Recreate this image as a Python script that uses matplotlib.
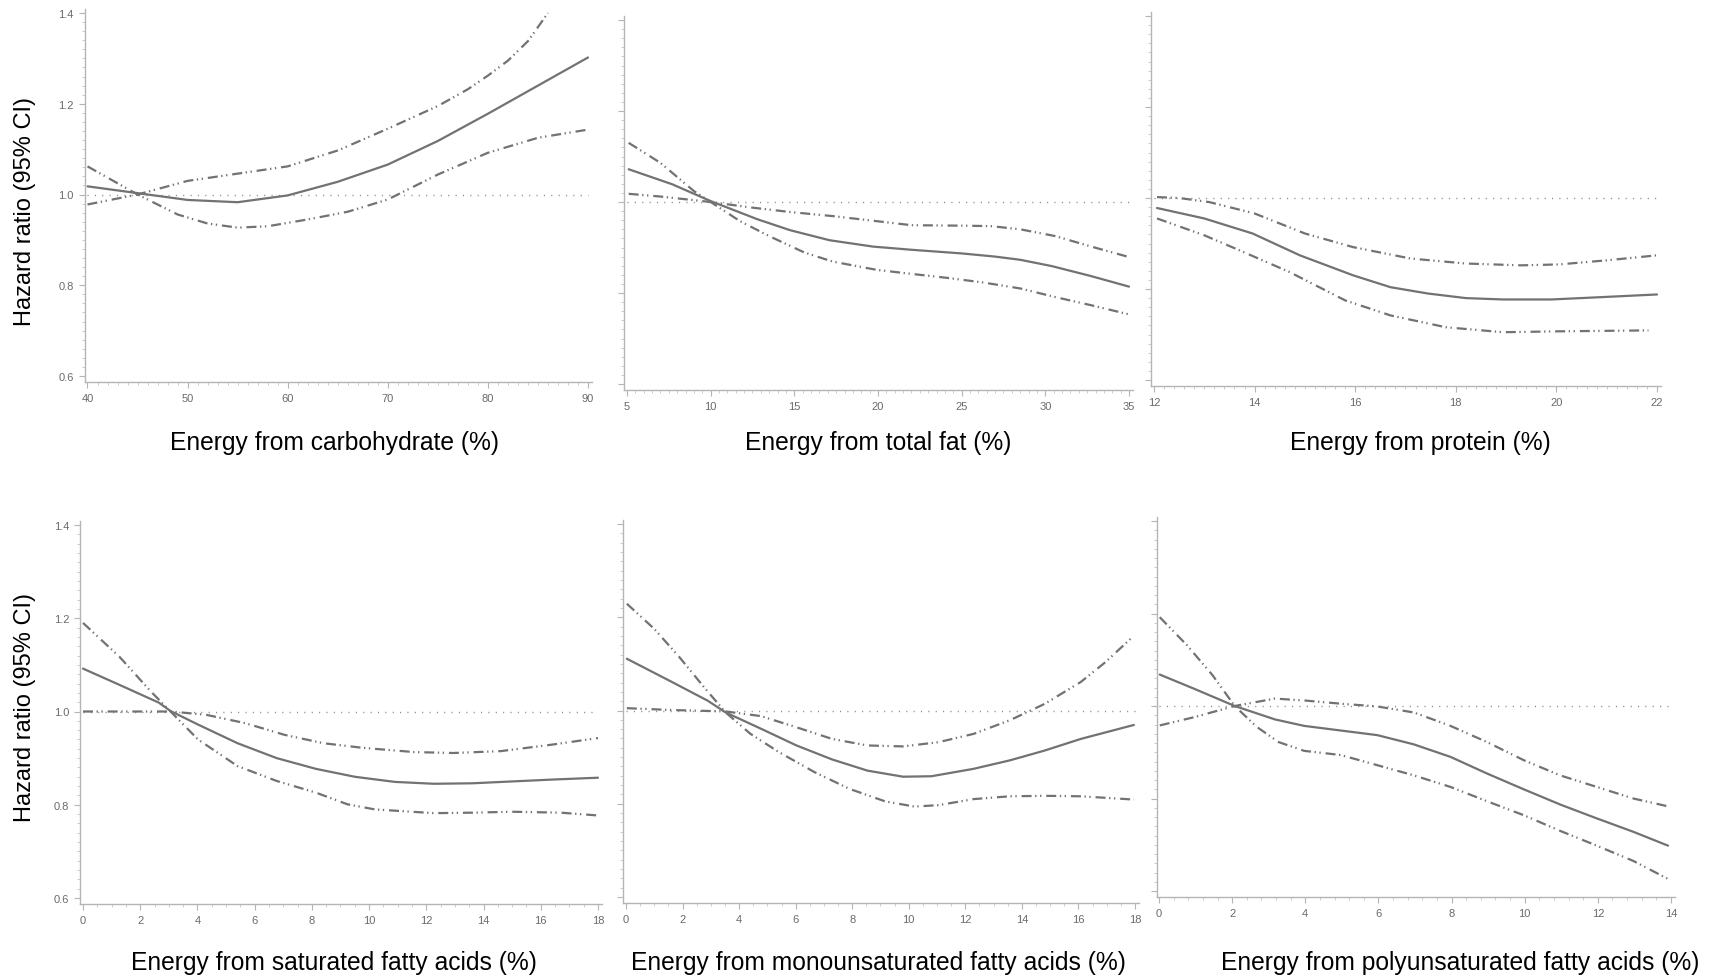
import matplotlib
matplotlib.use("Agg")
import matplotlib.pyplot as plt
from matplotlib.ticker import MultipleLocator

plt.rcParams['font.family'] = ['Liberation Sans', 'DejaVu Sans']

# ---- data: hazard ratio curves (spline estimate and 95% CI bounds) ----
carb_x = [40, 45, 50, 55, 60, 65, 70, 75, 80, 85, 90]
carb_hr = [1.018, 1.003, 0.988, 0.983, 0.998, 1.028, 1.066, 1.118, 1.178, 1.240, 1.302]
carb_ci_a_x = [40, 45, 50, 55, 60, 65, 70, 75, 78, 80, 82, 84, 86]
carb_ci_a = [0.978, 1.0, 1.030, 1.046, 1.062, 1.097, 1.145, 1.195, 1.232, 1.262, 1.295, 1.338, 1.400]
carb_ci_b_x = [40, 45, 49, 52, 55, 58, 62, 66, 70, 75, 80, 85, 90]
carb_ci_b = [1.062, 1.0, 0.956, 0.936, 0.927, 0.930, 0.945, 0.962, 0.989, 1.044, 1.092, 1.125, 1.143]

fat_x = [5.1, 7.7, 10.0, 12.8, 14.75, 17.1, 19.7, 22, 25, 27, 28.5, 30.4, 32.75, 35]
fat_hr = [1.072, 1.039, 1.002, 0.962, 0.938, 0.916, 0.902, 0.895, 0.887, 0.880, 0.873, 0.859, 0.837, 0.814]
fat_ci_a_x = [5.1, 7, 9, 10, 11.75, 13.5, 15.6, 17.3, 19.9, 22, 24.2, 26.3, 28.5, 30.6, 32.75, 35]
fat_ci_a = [1.130, 1.086, 1.024, 1.0, 0.958, 0.925, 0.889, 0.869, 0.851, 0.842, 0.833, 0.823, 0.810, 0.791, 0.773, 0.753]
fat_ci_b_x = [5.1, 7, 10, 12.4, 14.75, 17.3, 19.9, 22, 25, 26.75, 28.5, 30.6, 32.75, 35]
fat_ci_b = [1.018, 1.012, 1.0, 0.988, 0.978, 0.969, 0.958, 0.949, 0.948, 0.947, 0.940, 0.925, 0.902, 0.879]

prot_x = [12.06, 13, 13.96, 14.9, 15.96, 16.7, 17.45, 18.2, 18.94, 19.9, 20.87, 22]
prot_hr = [0.978, 0.955, 0.922, 0.874, 0.830, 0.804, 0.790, 0.780, 0.777, 0.777, 0.782, 0.788]
prot_ci_a_x = [12.06, 12.5, 13.1, 14, 15, 15.96, 17.1, 18.2, 19.3, 20.05, 21, 22]
prot_ci_a = [1.002, 1.0, 0.991, 0.966, 0.922, 0.892, 0.867, 0.856, 0.852, 0.854, 0.863, 0.874]
prot_ci_b_x = [12.06, 13, 13.7, 14.7, 15.8, 16.7, 17.8, 18.94, 20.05, 21.83]
prot_ci_b = [0.955, 0.918, 0.885, 0.837, 0.775, 0.742, 0.716, 0.705, 0.707, 0.709]

sfa_x = [0, 1.28, 2.65, 3.06, 4.02, 5.4, 6.77, 8.14, 9.5, 10.9, 12.26, 13.6, 15, 16.4, 18]
sfa_hr = [1.092, 1.057, 1.019, 1.001, 0.972, 0.932, 0.900, 0.877, 0.860, 0.849, 0.845, 0.846, 0.850, 0.854, 0.858]
sfa_ci_a_x = [0, 1.28, 2.37, 3.06, 4.02, 5.4, 6.77, 8.14, 9.24, 10.2, 12.26, 13.6, 15, 16.7, 18]
sfa_ci_a = [1.190, 1.117, 1.043, 1.0, 0.940, 0.883, 0.851, 0.826, 0.801, 0.790, 0.782, 0.783, 0.785, 0.783, 0.777]
sfa_ci_b_x = [0, 1.96, 3.06, 4.3, 5.67, 7.04, 8.4, 9.79, 11.57, 12.95, 14.6, 16.4, 18]
sfa_ci_b = [1.0, 1.0, 1.0, 0.993, 0.975, 0.950, 0.932, 0.922, 0.913, 0.911, 0.915, 0.929, 0.943]

mufa_x = [0.03, 1.63, 2.89, 3.52, 4.77, 6.03, 7.29, 8.54, 9.8, 10.8, 12.3, 13.57, 14.8, 16.08, 17.96]
mufa_hr = [1.111, 1.061, 1.021, 0.996, 0.961, 0.925, 0.895, 0.871, 0.858, 0.859, 0.875, 0.893, 0.914, 0.939, 0.969]
mufa_ci_a_x = [0.03, 1.0, 1.88, 2.76, 3.52, 4.4, 5.4, 6.66, 7.9, 9.17, 10.2, 11.05, 12.3, 13.57, 14.8, 16.08, 17.96]
mufa_ci_a = [1.229, 1.175, 1.115, 1.050, 0.996, 0.950, 0.911, 0.868, 0.832, 0.805, 0.794, 0.797, 0.810, 0.816, 0.817, 0.816, 0.809]
mufa_ci_b_x = [0.03, 1.63, 3.52, 4.77, 6.03, 7.29, 8.54, 9.8, 11.05, 12.3, 13.57, 14.8, 16.08, 16.96, 17.9]
mufa_ci_b = [1.005, 1.001, 0.998, 0.988, 0.964, 0.939, 0.925, 0.923, 0.932, 0.950, 0.979, 1.014, 1.061, 1.104, 1.157]

pufa_x = [0.02, 0.97, 2.07, 3.17, 3.97, 4.97, 5.97, 6.97, 7.97, 8.97, 9.97, 10.97, 11.97, 12.97, 13.92]
pufa_hr = [1.068, 1.037, 1.0, 0.971, 0.957, 0.947, 0.937, 0.917, 0.890, 0.854, 0.820, 0.787, 0.757, 0.728, 0.698]
pufa_ci_a_x = [0.02, 0.77, 1.47, 2.07, 2.67, 3.27, 3.97, 4.97, 5.97, 6.97, 7.97, 8.97, 9.97, 10.97, 11.97, 12.97, 13.92]
pufa_ci_a = [1.192, 1.131, 1.066, 1.0, 0.955, 0.922, 0.903, 0.894, 0.872, 0.850, 0.825, 0.794, 0.764, 0.730, 0.698, 0.665, 0.626]
pufa_ci_b_x = [0.02, 0.97, 2.07, 3.17, 3.97, 4.97, 5.97, 6.97, 7.97, 8.97, 9.97, 10.97, 11.97, 12.97, 13.92]
pufa_ci_b = [0.958, 0.976, 1.0, 1.016, 1.012, 1.005, 0.999, 0.986, 0.957, 0.922, 0.883, 0.850, 0.825, 0.800, 0.783]

xlabels = ["Energy from carbohydrate (%)", "Energy from total fat (%)", "Energy from protein (%)",
           "Energy from saturated fatty acids (%)", "Energy from monounsaturated fatty acids (%)",
           "Energy from polyunsaturated fatty acids (%)"]
x_ranges = [(40, 90), (5, 35), (12, 22), (0, 18), (0, 18), (0, 14)]
x_major = [10, 5, 2, 2, 2, 2]
x_minor = [1, 0.5, 0.2, 0.5, 0.5, 0.4]
y_ticks = [0.6, 0.8, 1.0, 1.2, 1.4]

panels = [
    (carb_x, carb_hr, carb_ci_a_x, carb_ci_a, carb_ci_b_x, carb_ci_b),
    (fat_x, fat_hr, fat_ci_a_x, fat_ci_a, fat_ci_b_x, fat_ci_b),
    (prot_x, prot_hr, prot_ci_a_x, prot_ci_a, prot_ci_b_x, prot_ci_b),
    (sfa_x, sfa_hr, sfa_ci_a_x, sfa_ci_a, sfa_ci_b_x, sfa_ci_b),
    (mufa_x, mufa_hr, mufa_ci_a_x, mufa_ci_a, mufa_ci_b_x, mufa_ci_b),
    (pufa_x, pufa_hr, pufa_ci_a_x, pufa_ci_a, pufa_ci_b_x, pufa_ci_b),
]

# ---- layout (pixels): first/last x tick, y of 1.4 and 0.6 ----
W, H = 1715, 979
boxes = [(87.5, 588, 14, 377), (627, 1129, 21, 385), (1154, 1657, 17, 381),
         (83, 598, 526, 899), (626, 1135, 525, 898), (1159, 1671, 522, 892)]
xlabel_pos = [(334, 443), (878, 443), (1420, 443), (334, 963), (878, 963), (1460, 963)]
ylabel_pos = [(25, 212), (25, 708)]

line_col = "#727272"
ci_style = (0, (4.5, 1.6, 0.6, 1.6, 0.6, 2.2))

fig = plt.figure(figsize=(W / 100, H / 100), dpi=100)

for i, (px0, px1, py_top, py_bot) in enumerate(boxes):
    x0, x1 = x_ranges[i]
    ux = (x1 - x0) / (px1 - px0)
    uy = 0.8 / (py_bot - py_top)
    pl, pr, pt, pb = 2.5, 4, 4, 6
    left, right = px0 - pl, px1 + pr
    top, bot = py_top - pt, py_bot + pb
    ax = fig.add_axes([left / W, 1 - bot / H, (right - left) / W, (bot - top) / H])
    ax.set_xlim(x0 - pl * ux, x1 + pr * ux)
    ax.set_ylim(0.6 - pb * uy, 1.4 + pt * uy)

    xs, hr, xa, ca, xb, cb = panels[i]
    ax.plot([x0, x1], [1.0, 1.0], color="#8a8a8a", lw=1.0, linestyle=(0, (0.8, 4.5)))
    ax.plot(xs, hr, color=line_col, lw=1.6, solid_capstyle="round")
    ax.plot(xa, ca, color=line_col, lw=1.6, linestyle=ci_style)
    ax.plot(xb, cb, color=line_col, lw=1.6, linestyle=ci_style)

    for s in ["top", "right"]:
        ax.spines[s].set_visible(False)
    for s in ["left", "bottom"]:
        ax.spines[s].set_color("#b5b5b5")
        ax.spines[s].set_linewidth(1.0)

    ax.xaxis.set_major_locator(MultipleLocator(x_major[i]))
    ax.xaxis.set_minor_locator(MultipleLocator(x_minor[i]))
    ax.set_yticks(y_ticks)
    ax.yaxis.set_minor_locator(MultipleLocator(0.02))
    ax.tick_params(which="major", direction="out", length=4, width=0.8, color="#b5b5b5",
                   labelsize=8, labelcolor="#6a6a6a", pad=4)
    ax.tick_params(which="minor", direction="out", length=2.5, width=0.6, color="#c5c5c5")
    if i in (0, 3):
        ax.set_yticklabels([f"{t:.1f}" for t in y_ticks])
    else:
        ax.set_yticklabels([])

    lx, ly = xlabel_pos[i]
    fig.text(lx / W, 1 - ly / H, xlabels[i], ha="center", va="center", fontsize=17.7, color="black")

for lx, ly in ylabel_pos:
    fig.text(lx / W, 1 - ly / H, "Hazard ratio (95% CI)", ha="center", va="center",
             rotation=90, fontsize=17, color="black")

fig.savefig("out.png", dpi=100, facecolor="white")
